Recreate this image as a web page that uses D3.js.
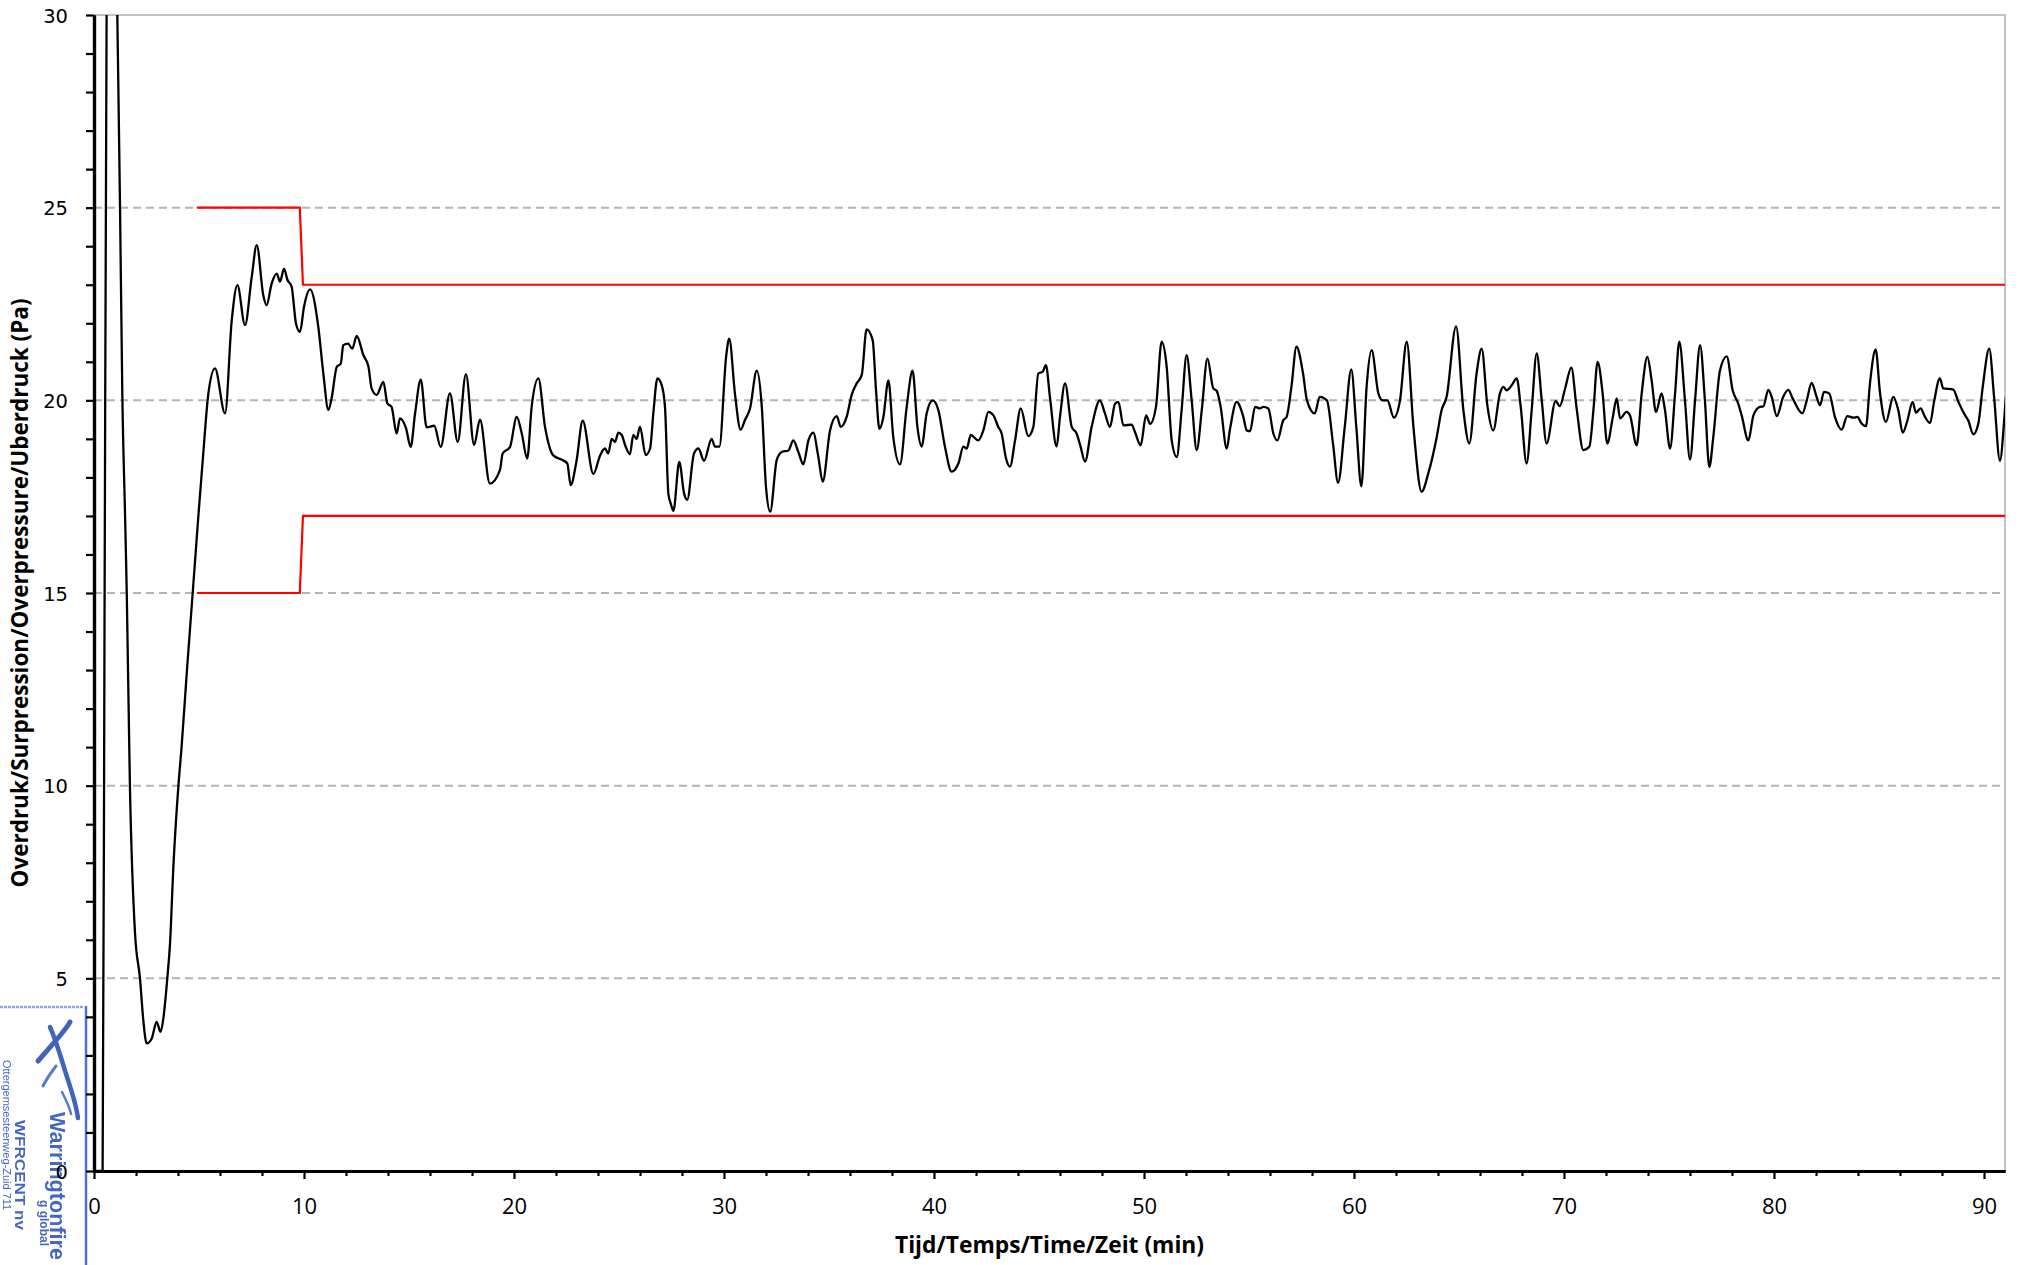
<!DOCTYPE html>
<html>
<head>
<meta charset="utf-8">
<script src="https://cdn.jsdelivr.net/npm/d3@7"></script>
<style>
  html, body { margin: 0; padding: 0; background: #fff; }
  svg { display: block; }
</style>
</head>
<body>
<div id="chart"></div>
<script>
// pressure trace: [time (min), overpressure (Pa)]
const pressureTrace = [
  [0, 0], [0.41, 0], [0.5, 14], [0.6, 30], [0.85, 40], [1.11, 30], [1.24, 25], [1.35, 20.1],
  [1.48, 17], [1.56, 15], [1.71, 10], [1.95, 6.2], [2.19, 5], [2.35, 3.9], [2.51, 3.31],
  [2.75, 3.44], [2.98, 3.87], [3.17, 3.61], [3.3, 3.95], [3.49, 5.0], [3.62, 5.9], [3.78, 7.9],
  [4.02, 10], [4.17, 11.0], [4.44, 13.1], [4.7, 15], [4.97, 17.0], [5.2, 18.6], [5.44, 20.15],
  [5.76, 20.83], [6.24, 19.66], [6.56, 22.08], [6.83, 22.99], [7.19, 21.95], [7.51, 23.2],
  [7.75, 24.03], [8.06, 22.73], [8.22, 22.47], [8.46, 23.03], [8.7, 23.29], [8.86, 23.08],
  [9.05, 23.42], [9.21, 23.13], [9.41, 22.95], [9.62, 21.99], [9.81, 21.78], [10.0, 22.43],
  [10.29, 22.88], [10.68, 21.91], [10.92, 20.7], [11.16, 19.75], [11.32, 20.07], [11.56, 20.87],
  [11.75, 20.95], [11.87, 21.43], [12.1, 21.47], [12.3, 21.34], [12.51, 21.67], [12.83, 21.17],
  [13.07, 20.87], [13.22, 20.31], [13.46, 20.14], [13.78, 20.48], [13.97, 19.92], [14.17, 19.83],
  [14.41, 19.14], [14.57, 19.53], [14.86, 19.27], [15.08, 18.79], [15.29, 19.66], [15.56, 20.54],
  [15.84, 19.3], [16.2, 19.34], [16.51, 18.79], [16.95, 20.18], [17.32, 18.92], [17.71, 20.68],
  [18.1, 18.84], [18.38, 19.5], [18.85, 17.84], [19.33, 18.19], [19.46, 18.62], [19.81, 18.79],
  [20.13, 19.57], [20.37, 19.14], [20.63, 18.49], [20.84, 19.83], [21.16, 20.57], [21.48, 19.3],
  [21.87, 18.57], [22.35, 18.44], [22.54, 18.36], [22.7, 17.8], [22.98, 18.44], [23.27, 19.47],
  [23.78, 18.09], [24.1, 18.57], [24.33, 18.75], [24.49, 18.62], [24.65, 19.0], [24.81, 18.92],
  [24.97, 19.16], [25.13, 19.1], [25.29, 18.84], [25.52, 18.6], [25.68, 19.1], [25.84, 19.0],
  [26.0, 19.32], [26.27, 18.58], [26.48, 18.75], [26.64, 19.7], [26.83, 20.57], [27.03, 20.4],
  [27.19, 19.83], [27.35, 17.58], [27.46, 17.33], [27.59, 17.13], [27.87, 18.4], [28.1, 17.58],
  [28.25, 17.42], [28.57, 18.62], [28.78, 18.75], [29.05, 18.43], [29.41, 19.0], [29.57, 18.8],
  [29.78, 18.8], [30.1, 21.13], [30.25, 21.6], [30.52, 20.18], [30.79, 19.24], [31.0, 19.49],
  [31.24, 19.79], [31.56, 20.77], [31.8, 19.83], [32.0, 17.75], [32.2, 17.11], [32.51, 18.45],
  [32.75, 18.66], [33.07, 18.7], [33.3, 18.96], [33.54, 18.66], [33.78, 18.34], [34.02, 18.96],
  [34.25, 19.16], [34.49, 18.54], [34.7, 17.89], [35.05, 19.22], [35.37, 19.59], [35.56, 19.31],
  [35.84, 19.57], [36.08, 20.14], [36.32, 20.44], [36.56, 20.66], [36.79, 21.84], [37.08, 21.56],
  [37.24, 20.26], [37.4, 19.26], [37.59, 19.57], [37.83, 20.52], [38.06, 19.05], [38.38, 18.34],
  [38.7, 19.83], [38.98, 20.77], [39.21, 19.31], [39.41, 18.8], [39.65, 19.66], [39.94, 20.0],
  [40.21, 19.74], [40.52, 18.8], [40.84, 18.15], [41.16, 18.36], [41.4, 18.8], [41.56, 18.75],
  [41.75, 19.1], [42.11, 18.96], [42.35, 19.22], [42.59, 19.7], [42.83, 19.61], [43.06, 19.31],
  [43.22, 19.14], [43.43, 18.49], [43.62, 18.28], [43.86, 18.96], [44.13, 19.79], [44.49, 19.07],
  [44.73, 19.31], [44.97, 20.7], [45.17, 20.74], [45.33, 20.91], [45.52, 20.09], [45.84, 18.8],
  [46.0, 19.57], [46.24, 20.44], [46.56, 19.31], [46.79, 19.14], [46.98, 18.8], [47.19, 18.41],
  [47.51, 19.32], [47.9, 20.0], [48.14, 19.66], [48.38, 19.31], [48.62, 19.91], [48.78, 19.96],
  [49.02, 19.35], [49.41, 19.37], [49.57, 19.18], [49.84, 18.83], [50.1, 19.61], [50.29, 19.39],
  [50.57, 19.83], [50.84, 21.52], [51.08, 20.87], [51.32, 18.96], [51.56, 18.53], [51.79, 19.74],
  [52.03, 21.17], [52.27, 20.0], [52.51, 18.71], [52.75, 19.74], [53.02, 21.08], [53.3, 20.31],
  [53.46, 20.25], [53.65, 19.83], [53.94, 18.75], [54.1, 19.27], [54.41, 19.96], [54.73, 19.57],
  [54.89, 19.22], [55.05, 19.2], [55.29, 19.83], [55.52, 19.79], [55.68, 19.83], [55.92, 19.79],
  [56.16, 19.14], [56.35, 18.96], [56.63, 19.48], [56.79, 19.57], [57.02, 20.35], [57.26, 21.39],
  [57.57, 20.71], [57.76, 20.0], [58.13, 19.66], [58.37, 20.09], [58.71, 20.0], [59.0, 18.88],
  [59.24, 17.86], [59.56, 19.31], [59.87, 20.8], [60.11, 19.31], [60.35, 17.77], [60.6, 20.35],
  [60.84, 21.3], [61.16, 20.18], [61.36, 20.0], [61.59, 20.0], [61.9, 19.55], [62.19, 20.0],
  [62.51, 21.52], [62.83, 19.31], [63.22, 17.63], [63.54, 18.11], [63.94, 19.05], [64.17, 19.74],
  [64.41, 20.09], [64.86, 21.92], [65.21, 19.74], [65.49, 18.88], [65.84, 20.71], [66.08, 21.34],
  [66.35, 19.87], [66.63, 19.22], [66.95, 20.18], [67.11, 20.35], [67.27, 20.26], [67.51, 20.39],
  [67.75, 20.57], [67.94, 19.83], [68.22, 18.36], [68.46, 19.74], [68.7, 21.22], [68.94, 20.0],
  [69.17, 18.88], [69.6, 19.98], [69.8, 19.85], [70.05, 20.3], [70.35, 20.85], [70.6, 19.8],
  [70.92, 18.71], [71.21, 18.8], [71.4, 19.74], [71.6, 21.0], [71.84, 20.18], [72.06, 18.88],
  [72.32, 19.55], [72.51, 20.05], [72.67, 19.53], [72.98, 19.7], [73.14, 19.61], [73.46, 18.83],
  [73.7, 20.18], [73.97, 21.13], [74.17, 20.53], [74.38, 19.7], [74.65, 20.18], [74.81, 19.74],
  [75.05, 18.75], [75.29, 20.18], [75.49, 21.52], [75.76, 20.0], [76.0, 18.46], [76.24, 20.0],
  [76.48, 21.43], [76.71, 20.0], [76.92, 18.27], [77.11, 19.05], [77.43, 20.78], [77.75, 21.14],
  [78.03, 20.26], [78.3, 19.91], [78.46, 19.61], [78.78, 18.96], [79.02, 19.61], [79.33, 19.83],
  [79.49, 19.84], [79.73, 20.27], [79.89, 20.09], [80.13, 19.59], [80.44, 20.09], [80.68, 20.27],
  [80.89, 20.05], [81.35, 19.66], [81.56, 20.0], [81.79, 20.45], [82.03, 20.09], [82.19, 19.87],
  [82.38, 20.22], [82.63, 20.18], [82.9, 19.57], [83.22, 19.24], [83.49, 19.59], [83.78, 19.55],
  [83.97, 19.57], [84.17, 19.4], [84.38, 19.33], [84.57, 20.44], [84.84, 21.32], [85.05, 20.18],
  [85.33, 19.44], [85.68, 20.09], [85.92, 19.74], [86.13, 19.16], [86.35, 19.47], [86.6, 19.96],
  [86.76, 19.68], [86.98, 19.79], [87.19, 19.57], [87.43, 19.41], [87.62, 19.96], [87.9, 20.57],
  [88.06, 20.31], [88.54, 20.28], [88.78, 19.96], [89.1, 19.61], [89.25, 19.48], [89.49, 19.12],
  [89.73, 19.4], [89.94, 20.35], [90.25, 21.34], [90.48, 20.09], [90.76, 18.43], [90.95, 19.4],
  [91.04, 20.09]
];

// tolerance band (red)
const limitTime = [4.9, 9.8, 9.95, 91];
const upperLimit = [25, 25, 23, 23];
const lowerLimit = [15, 15, 17, 17];

// axis ticks
const xMajorTicks = [0, 10, 20, 30, 40, 50, 60, 70, 80, 90];
const xMinorTicks = [2, 4, 6, 8, 12, 14, 16, 18, 22, 24, 26, 28, 32, 34, 36, 38, 42, 44, 46, 48,
  52, 54, 56, 58, 62, 64, 66, 68, 72, 74, 76, 78, 82, 84, 86, 88];
const yMajorTicks = [0, 5, 10, 15, 20, 25, 30];
const yMinorTicks = [1, 2, 3, 4, 6, 7, 8, 9, 11, 12, 13, 14, 16, 17, 18, 19, 21, 22, 23, 24, 26, 27, 28, 29];

const width = 2022;
const height = 1265;
const margin = { top: 15, right: 17, bottom: 94, left: 94 };

const svg = d3.select("#chart")
  .append("svg")
  .attr("width", width)
  .attr("height", height);

const x = d3.scaleLinear()
  .domain([0, 91])
  .range([margin.left, width - margin.right]);

const y = d3.scaleLinear()
  .domain([0, 30])
  .range([height - margin.bottom, margin.top]);

const defs = svg.append("defs");
defs.append("clipPath").attr("id", "plot-clip")
  .append("rect")
  .attr("x", x(0))
  .attr("y", y(30))
  .attr("width", x(91) - x(0))
  .attr("height", y(0) - y(30));
defs.append("filter").attr("id", "scan")
  .append("feGaussianBlur").attr("stdDeviation", 0.7);

// scanned stamp in the bottom-left corner (drawn under the axes)
const stamp = svg.append("g").attr("filter", "url(#scan)").attr("fill", "#4468bd");
stamp.append("path").attr("d", "M0,1007H84")
  .attr("stroke", "#8fa6dc").attr("stroke-width", 2.5).attr("stroke-dasharray", "3,1").attr("fill", "none");
stamp.append("path").attr("d", "M86,1006V1265")
  .attr("stroke", "#4d72c6").attr("stroke-width", 2.5).attr("fill", "none");
// logo swirl
stamp.append("path").attr("d", "M70,1022 C66,1030 56,1040 38,1061")
  .attr("stroke", "#3f63bb").attr("stroke-width", 5).attr("fill", "none").attr("stroke-linecap", "round");
stamp.append("path").attr("d", "M50,1027 C58,1045 62,1062 68,1080 C72,1092 76,1104 78,1118")
  .attr("stroke", "#3f63bb").attr("stroke-width", 4.5).attr("fill", "none").attr("stroke-linecap", "round");
stamp.append("path").attr("d", "M56,1066 C50,1074 46,1080 43,1086")
  .attr("stroke", "#5a7cc8").attr("stroke-width", 3).attr("fill", "none").attr("stroke-linecap", "round");
stamp.append("path").attr("d", "M62,1092 C66,1100 70,1108 71,1114")
  .attr("stroke", "#5a7cc8").attr("stroke-width", 2.5).attr("fill", "none").attr("stroke-linecap", "round");
stamp.append("text")
  .attr("transform", "translate(50,1112) rotate(90)")
  .attr("font-family", "Liberation Sans").attr("font-weight", 700).attr("font-size", 22)
  .attr("textLength", 148).attr("lengthAdjust", "spacingAndGlyphs")
  .text("Warringtonfire");
stamp.append("text")
  .attr("transform", "translate(40,1200) rotate(90)")
  .attr("font-family", "Liberation Sans").attr("font-weight", 700).attr("font-size", 12)
  .text("g global");
stamp.append("text")
  .attr("transform", "translate(15,1120) rotate(90)")
  .attr("font-family", "Liberation Sans").attr("font-weight", 700).attr("font-size", 15)
  .attr("textLength", 110).attr("lengthAdjust", "spacingAndGlyphs")
  .text("WFRCENT nv");
stamp.append("text")
  .attr("transform", "translate(3,1060) rotate(90)")
  .attr("font-family", "Liberation Sans").attr("font-size", 11)
  .text("Ottergemsesteenweg-Zuid 711");

// dashed horizontal gridlines
svg.append("g")
  .selectAll("line")
  .data(yMajorTicks.filter(d => d > 0 && d < 30))
  .join("line")
  .attr("x1", x(0))
  .attr("x2", x(91))
  .attr("y1", d => y(d))
  .attr("y2", d => y(d))
  .attr("stroke", "#b4b4b4")
  .attr("stroke-width", 2)
  .attr("stroke-dasharray", "8,5");

// plot area border, top and right
svg.append("path")
  .attr("d", `M${x(0)},${y(30)}H${x(91)}V${y(0)}`)
  .attr("fill", "none")
  .attr("stroke", "#c2c2c2")
  .attr("stroke-width", 2);

// red tolerance lines
const limitLine = d3.line()
  .x(d => x(d[0]))
  .y(d => y(d[1]));

[upperLimit, lowerLimit].forEach(lim => {
  svg.append("path")
    .datum(limitTime.map((t, i) => [t, lim[i]]))
    .attr("fill", "none")
    .attr("stroke", "#ff0000")
    .attr("stroke-width", 2.2)
    .attr("d", limitLine);
});

// measured trace
const traceLine = d3.line()
  .x(d => x(d[0]))
  .y(d => y(d[1]))
  .curve(d3.curveMonotoneX);

svg.append("path")
  .datum(pressureTrace)
  .attr("clip-path", "url(#plot-clip)")
  .attr("fill", "none")
  .attr("stroke", "#000")
  .attr("stroke-width", 2.3)
  .attr("stroke-linejoin", "round")
  .attr("d", traceLine);

// y axis: minor then labelled major ticks
const yAxisG = svg.append("g").attr("transform", `translate(${x(0)},0)`);
yAxisG.append("g")
  .call(d3.axisLeft(y).tickValues(yMinorTicks).tickSize(8).tickSizeOuter(0).tickFormat(""));
yAxisG.append("g")
  .call(d3.axisLeft(y).tickValues(yMajorTicks).tickSize(8).tickSizeOuter(0).tickPadding(18));
yAxisG.selectAll("text")
  .attr("font-family", "DejaVu Sans")
  .attr("font-size", 19.5)
  .attr("fill", "#000")
  .attr("dy", "0.36em");

// x axis
const xAxisG = svg.append("g").attr("transform", `translate(0,${y(0)})`);
xAxisG.append("g")
  .call(d3.axisBottom(x).tickValues(xMinorTicks).tickSize(5).tickSizeOuter(0).tickFormat(""));
xAxisG.append("g")
  .call(d3.axisBottom(x).tickValues(xMajorTicks).tickSize(8).tickSizeOuter(0).tickPadding(19));
xAxisG.selectAll("text")
  .attr("font-family", "Open Sans")
  .attr("font-size", 22)
  .attr("fill", "#000");

svg.selectAll(".tick line").attr("stroke", "#000").attr("stroke-width", 2.2);
svg.selectAll(".domain").attr("stroke", "#000").attr("stroke-width", 3.2);

// axis titles
svg.append("text")
  .attr("x", (x(0) + x(91)) / 2)
  .attr("y", 1253)
  .attr("text-anchor", "middle")
  .attr("font-family", "Open Sans")
  .attr("font-weight", 700)
  .attr("font-size", 24)
  .attr("textLength", 309)
  .attr("lengthAdjust", "spacingAndGlyphs")
  .text("Tijd/Temps/Time/Zeit (min)");

svg.append("text")
  .attr("transform", `translate(28,${(y(0) + y(30)) / 2}) rotate(-90)`)
  .attr("text-anchor", "middle")
  .attr("font-family", "Open Sans")
  .attr("font-weight", 700)
  .attr("font-size", 24)
  .attr("textLength", 589)
  .attr("lengthAdjust", "spacingAndGlyphs")
  .text("Overdruk/Surpression/Overpressure/Uberdruck (Pa)");
</script>
</body>
</html>
